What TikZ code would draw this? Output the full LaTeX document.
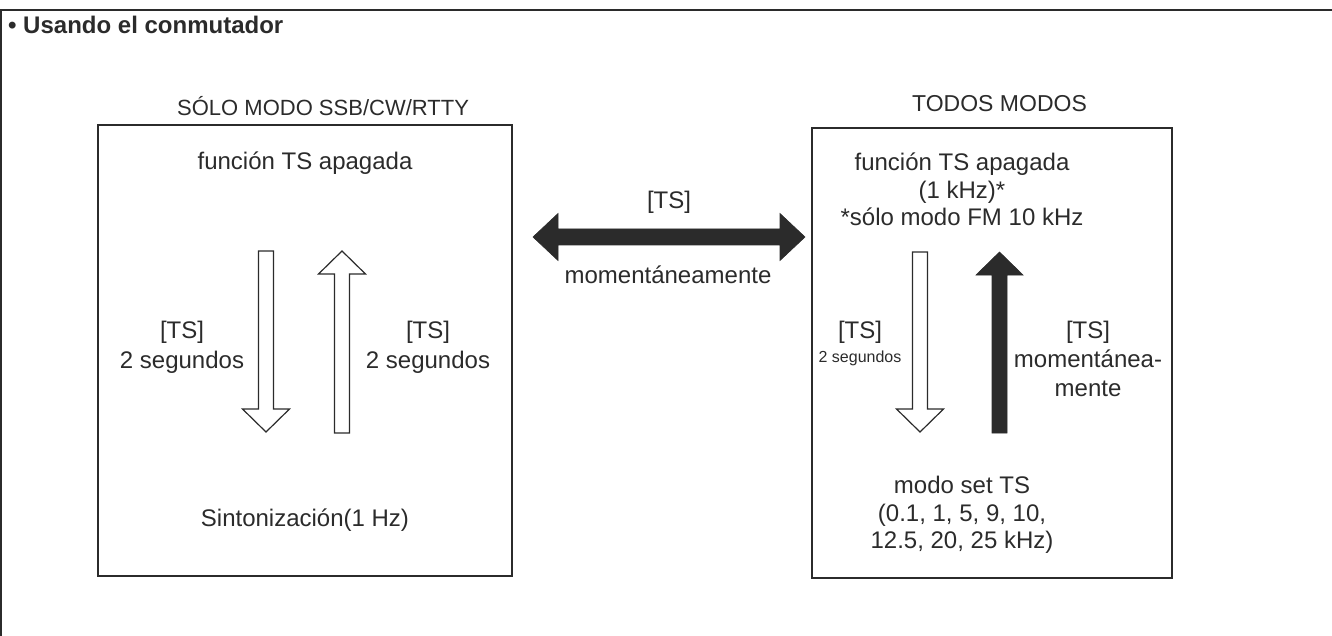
\documentclass[tikz,border=0pt]{standalone}
\usepackage{fontspec}
\setmainfont{Liberation Sans}
\definecolor{ink}{HTML}{2B2B2B}
\tikzset{
  frame/.style={draw=ink, line width=1.8pt},
  panel/.style={draw=ink, line width=2pt},
  hollow/.style={draw=ink, line width=1.2pt, fill=white, line join=miter},
  filledarr/.style={draw=ink, fill=ink, line width=0.6pt, line join=miter},
  txt/.style={inner sep=0pt, text=ink, font=\fontsize{24}{28}\selectfont},
  head/.style={inner sep=0pt, text=ink, font=\fontsize{22}{26}\selectfont},
  headb/.style={inner sep=0pt, text=ink, font=\fontsize{23}{26}\selectfont},
  small/.style={inner sep=0pt, text=ink, font=\fontsize{16}{19}\selectfont},
  ttl/.style={inner sep=0pt, text=ink, font=\fontsize{24}{28}\selectfont\bfseries}
}
% vertical block arrow pointing up: style, x, tip y, tail y
\newcommand{\ArrUp}[4]{%
  \path[#1] (#2,#3) -- ++(23.5,23) -- ++(-16,0) -- ({#2+7.5},#4)
    -- ({#2-7.5},#4) -- ({#2-7.5},{#3+23}) -- ++(-16,0) -- cycle;}
% vertical block arrow pointing down: style, x, tip y, tail y
\newcommand{\ArrDown}[4]{%
  \path[#1] (#2,#3) -- ++(23.5,-23) -- ++(-16,0) -- ({#2+7.5},#4)
    -- ({#2-7.5},#4) -- ({#2-7.5},{#3-23}) -- ++(-16,0) -- cycle;}
\begin{document}
\begin{tikzpicture}[x=1pt,y=-1pt]
\useasboundingbox (0,0) rectangle (1332,636);
% outer frame (top and left only)
\draw[frame] (1,636) -- (1,10) -- (1332,10);
\node[ttl, anchor=base west] (title) at (8,34) {• Usando el conmutador};

% left panel
\node[head, anchor=base west] (lhead) at (177,116) {SÓLO MODO SSB/CW/RTTY};
\draw[panel] (98,125) rectangle (512,576);
\node[txt, anchor=base] (loff) at (305,170) {función TS apagada};
\ArrDown{hollow}{266}{432}{251}
\ArrUp{hollow}{342}{251}{433}
\node[txt, anchor=base] (lts1) at (182,338) {[TS]};
\node[txt, anchor=base] (lsec1) at (182,368) {2 segundos};
\node[txt, anchor=base] (lts2) at (428,338) {[TS]};
\node[txt, anchor=base] (lsec2) at (428,368) {2 segundos};
\node[txt, anchor=base] (ltune) at (305,526) {Sintonización(1 Hz)};

% central double arrow
\path[filledarr] (533,237) -- (558,213.5) -- (558,229) -- (780,229) -- (780,213.5)
  -- (805,237) -- (780,260.5) -- (780,245) -- (558,245) -- (558,260.5) -- cycle;
\node[txt, anchor=base] (cts) at (669,209) {[TS]};
\node[txt, anchor=base] (cmom) at (668,283) {momentáneamente};

% right panel
\node[headb, anchor=base west] (rhead) at (912,112) {TODOS MODOS};
\draw[panel] (812,128) rectangle (1172,578);
\node[txt, anchor=base] (roff1) at (962,171) {función TS apagada};
\node[txt, anchor=base] (roff2) at (962,198.5) {(1 kHz)*};
\node[txt, anchor=base] (roff3) at (962,226) {*sólo modo FM 10 kHz};
\ArrDown{hollow}{920}{432}{252}
\ArrUp{filledarr}{999.5}{252}{433}
\node[txt, anchor=base] (rts1) at (860,338) {[TS]};
\node[small, anchor=base] (rsec) at (860,362) {2 segundos};
\node[txt, anchor=base] (rts2) at (1088,338) {[TS]};
\node[txt, anchor=base] (rmom1) at (1088,367) {momentánea-};
\node[txt, anchor=base] (rmom2) at (1088,396) {mente};
\node[txt, anchor=base] (rset1) at (962,493) {modo set TS};
\node[txt, anchor=base] (rset2) at (962,521) {(0.1, 1, 5, 9, 10,};
\node[txt, anchor=base] (rset3) at (962,548) {12.5, 20, 25 kHz)};
\end{tikzpicture}
\end{document}
